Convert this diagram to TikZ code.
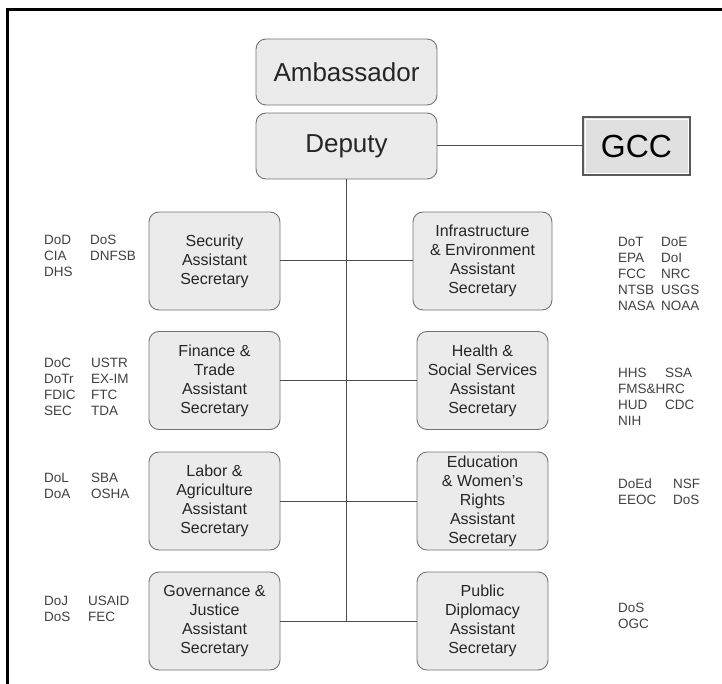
\documentclass[tikz,border=0pt]{standalone}
\usepackage{fontspec}
\setmainfont{Liberation Sans}
\tikzset{%
	office/.style={shape=rectangle,rounded corners=10pt,draw=black!55,fill=black!8,line width=0.9pt,align=center,text=black!85,inner sep=0pt,minimum width=131pt,minimum height=98pt,font=\fontsize{16}{19}\selectfont},
	head/.style={office,minimum width=181pt,minimum height=66pt,font=\fontsize{26}{30}\selectfont},
	gccbox/.style={shape=rectangle,draw=black!65,fill=black!12,line width=1.1pt,inner sep=0pt,minimum width=107pt,minimum height=58pt,font=\fontsize{32}{36}\selectfont,
		path picture={\draw[white,line width=0.8pt] ([shift={(2pt,-2pt)}]path picture bounding box.north west) rectangle ([shift={(-2pt,2pt)}]path picture bounding box.south east);}},
	agency/.style={anchor=north west,inner sep=0pt,align=left,text=black!75,font=\fontsize{13.5}{16}\selectfont},
	link/.style={draw=black!70,line width=1pt},
}
\begin{document}
\begin{tikzpicture}[x=1pt,y=-1pt]
				\useasboundingbox (0,0) rectangle (722,684);
				\draw[line width=2.5pt] (7.5,684) -- (7.5,9.5) -- (722,9.5);
				
				%top
				\node[head] (amb) at (346.5,72) {Ambassador};
				\node[head] (dep) at (346.5,146) {Deputy};
				\node[gccbox] (gcc) at (636.5,146) {GCC};
				
				%left column
				\node[office] (sec) at (214.5,261) {Security\\Assistant\\Secretary};
				\node[office] (fin) at (214.5,380.5) {Finance \&\\Trade\\Assistant\\Secretary};
				\node[office] (lab) at (214.5,501) {Labor \&\\Agriculture\\Assistant\\Secretary};
				\node[office] (gov) at (214.5,621) {Governance \&\\Justice\\Assistant\\Secretary};
				
				%right column
				\node[office,minimum width=139pt] (inf) at (482.5,261) {Infrastructure\\\& Environment\\Assistant\\Secretary};
				\node[office] (hea) at (482.5,380.5) {Health \&\\Social Services\\Assistant\\Secretary};
				\node[office] (edu) at (482.5,501) {Education\\\& Women's\\Rights\\Assistant\\Secretary};
				\node[office] (pub) at (482.5,621) {Public\\Diplomacy\\Assistant\\Secretary};
				
				%lines
				\draw[link] (dep) -- (gcc);
				\draw[link] (dep.south) -- (dep.south |- gov.east);
				\foreach \n in {sec,fin,lab,gov}
					\draw[link] (\n.east) -- (\n.east -| dep.south);
				\foreach \n in {inf,hea,edu,pub}
					\draw[link] (\n.west -| dep.south) -- (\n.west);
				
				%agencies
				\node[agency] (secA) at (44,235) {DoD\\CIA\\DHS};
				\node[agency] (secB) at (90,235) {DoS\\DNFSB};
				\node[agency] (finA) at (44,358) {DoC\\DoTr\\FDIC\\SEC};
				\node[agency] (finB) at (91,358) {USTR\\EX-IM\\FTC\\TDA};
				\node[agency] (labA) at (44,473) {DoL\\DoA};
				\node[agency] (labB) at (91,473) {SBA\\OSHA};
				\node[agency] (govA) at (44,596) {DoJ\\DoS};
				\node[agency] (govB) at (88,596) {USAID\\FEC};
				\node[agency] (infA) at (618,237) {DoT\\EPA\\FCC\\NTSB\\NASA};
				\node[agency] (infB) at (661,237) {DoE\\DoI\\NRC\\USGS\\NOAA};
				\node[agency] (heaA) at (618,368) {HHS\\FMS\&HRC\\HUD\\NIH};
				\node[agency] (heaB) at (665,368) {SSA\\[16pt]CDC};
				\node[agency] (eduA) at (618,479) {DoEd\\EEOC};
				\node[agency] (eduB) at (673,479) {NSF\\DoS};
				\node[agency] (pubA) at (618,603) {DoS\\OGC};
			\end{tikzpicture}
\end{document}
